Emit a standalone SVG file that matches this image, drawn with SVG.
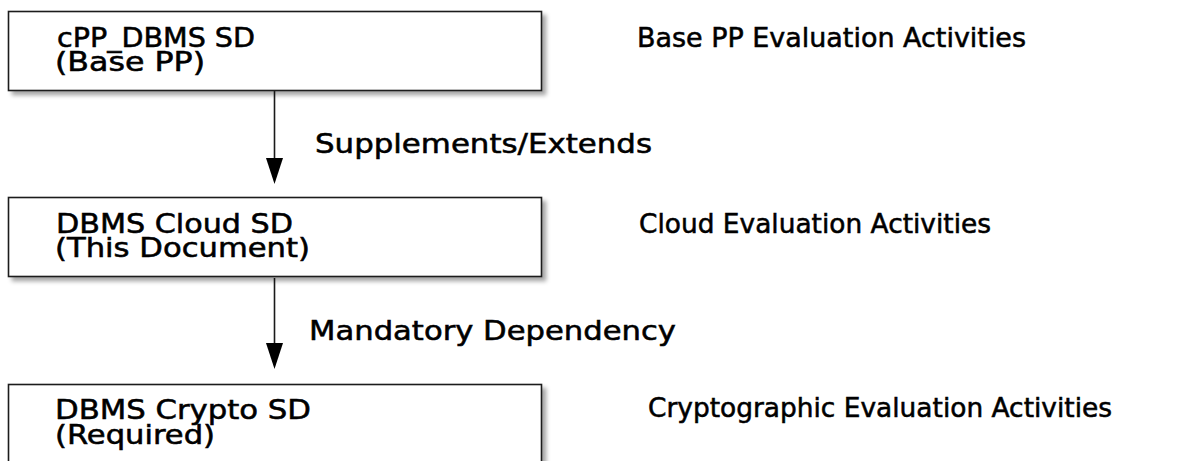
<svg xmlns="http://www.w3.org/2000/svg" width="1198" height="461" viewBox="0 0 1198 461">
<style>
.box{fill:#fff;stroke:#1a1a1a;stroke-width:1.6;filter:url(#sh)}
.t{font-family:"DejaVu Sans","Liberation Sans",sans-serif;font-size:27px;fill:#000;stroke:#000;stroke-width:0.55}
.edge{stroke:#1a1a1a;stroke-width:1.6;fill:none}
.head{fill:#000}
</style>
<defs>
<filter id="sh" x="-5%" y="-10%" width="115%" height="130%">
<feDropShadow dx="4" dy="4" stdDeviation="2" flood-color="#000" flood-opacity="0.35"/>
</filter>
</defs>
<rect width="1198" height="461" fill="#fff"/>
<g id="connectors">
<line class="edge" x1="274.5" y1="91" x2="274.5" y2="162"/>
<polygon class="head" points="266,158 283,158 274.5,184"/>
<text class="t" x="315" y="153" textLength="337" lengthAdjust="spacingAndGlyphs">Supplements/Extends</text>
<line class="edge" x1="274.5" y1="278" x2="274.5" y2="347"/>
<polygon class="head" points="266,343 283,343 274.5,369"/>
<text class="t" x="309" y="340" textLength="367" lengthAdjust="spacingAndGlyphs">Mandatory Dependency</text>
</g>
<g id="node-base">
<rect class="box" x="8.5" y="11.5" width="533" height="79"/>
<text class="t" x="57" y="47" textLength="198" lengthAdjust="spacingAndGlyphs">cPP_DBMS SD</text>
<text class="t" x="55" y="71" textLength="150" lengthAdjust="spacingAndGlyphs">(Base PP)</text>
</g>
<g id="node-cloud">
<rect class="box" x="8.5" y="197.5" width="533" height="79"/>
<text class="t" x="56" y="233" textLength="237" lengthAdjust="spacingAndGlyphs">DBMS Cloud SD</text>
<text class="t" x="55" y="257" textLength="255" lengthAdjust="spacingAndGlyphs">(This Document)</text>
</g>
<g id="node-crypto">
<rect class="box" x="8.5" y="384.5" width="533" height="90"/>
<text class="t" x="55" y="419" textLength="256" lengthAdjust="spacingAndGlyphs">DBMS Crypto SD</text>
<text class="t" x="55" y="444" textLength="160" lengthAdjust="spacingAndGlyphs">(Required)</text>
</g>
<g id="labels">
<text class="t" x="637" y="47" textLength="389" lengthAdjust="spacingAndGlyphs">Base PP Evaluation Activities</text>
<text class="t" x="639" y="233" textLength="352" lengthAdjust="spacingAndGlyphs">Cloud Evaluation Activities</text>
<text class="t" x="648" y="417" textLength="464" lengthAdjust="spacingAndGlyphs">Cryptographic Evaluation Activities</text>
</g>
</svg>
